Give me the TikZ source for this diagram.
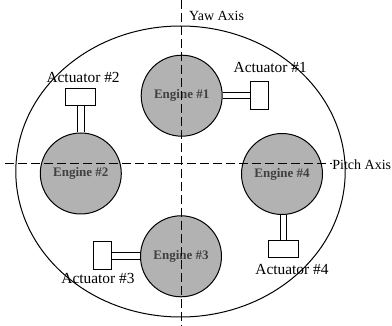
\documentclass[tikz,border=0pt]{standalone}
\usepackage{fontspec}
\setmainfont{Liberation Serif}
\usetikzlibrary{calc, positioning, shapes.geometric}

\begin{document}
\begin{tikzpicture}[
    x=0.5pt, y=-0.5pt,
    engine/.style={draw, circle, minimum size=40.5pt, inner sep=0pt, fill=gray!60, line width=0.5pt, font=\fontsize{6.5}{8}\selectfont\bfseries, text=black!75},
    actv/.style={draw, rectangle, inner sep=0pt, fill=white, minimum width=9pt, minimum height=14pt},
    acth/.style={draw, rectangle, inner sep=0pt, fill=white, minimum width=15pt, minimum height=8.7pt},
    rod/.style={double=white, double distance=2.8pt, line width=0.5pt},
    axis/.style={dash pattern=on 4.5pt off 2pt, line width=0.4pt},
    lbl/.style={font=\fontsize{7.7}{9}\selectfont, inner sep=0pt},
    axlbl/.style={font=\fontsize{7}{8}\selectfont, inner sep=0pt},
]
    \useasboundingbox (0,0) rectangle (392,326);

    % Outer body
    \node[draw, ellipse, minimum width=164.7pt, minimum height=145.5pt, inner sep=0pt, line width=0.5pt] (hull) at (180.5,171.5) {};

    % Engines
    \node[engine] (eng1) at (181.7,95.7) {Engine \#1};
    \node[engine] (eng2) at (80.8,173.5) {Engine \#2};
    \node[engine] (eng3) at (181,256.3) {Engine \#3};
    \node[engine] (eng4) at (282,174) {Engine \#4};

    % Actuators
    \node[actv] (act1) at (259.2,95) {};
    \node[acth] (act2) at (80.7,97.2) {};
    \node[actv] (act3) at (102.2,255.3) {};
    \node[acth] (act4) at (283.4,249.2) {};

    \draw[rod] (eng1.east) -- (eng1.east -| act1.west);
    \draw[rod] (eng2.north) -- (eng2.north |- act2.south);
    \draw[rod] (eng3.west) -- (eng3.west -| act3.east);
    \draw[rod] (act4.north) -- (act4.north |- eng4.south);

    \node[lbl, above=3.9pt of act1, xshift=5.5pt] (act1lbl) {Actuator \#1};
    \node[lbl, above=2.5pt of act2, xshift=1.2pt] (act2lbl) {Actuator \#2};
    \node[lbl, below=1.5pt of act3, xshift=-2.1pt] (act3lbl) {Actuator \#3};
    \node[lbl, below=3pt of act4, xshift=4.3pt] (act4lbl) {Actuator \#4};

    % Axes
    \coordinate (yawtop) at (181.7,0);
    \coordinate (yawbot) at (181.7,326);
    \coordinate (pitchl) at (5,163.3);
    \node[axlbl, anchor=west] (yawlbl) at ($(yawtop)+(7,16)$) {Yaw Axis};
    \node[axlbl, anchor=west] (pitchlbl) at (332,165) {Pitch Axis};

    \draw[axis] (yawtop) -- (yawbot);
    \draw[axis] (pitchl) -- (pitchl -| pitchlbl.west);

\end{tikzpicture}
\end{document}
